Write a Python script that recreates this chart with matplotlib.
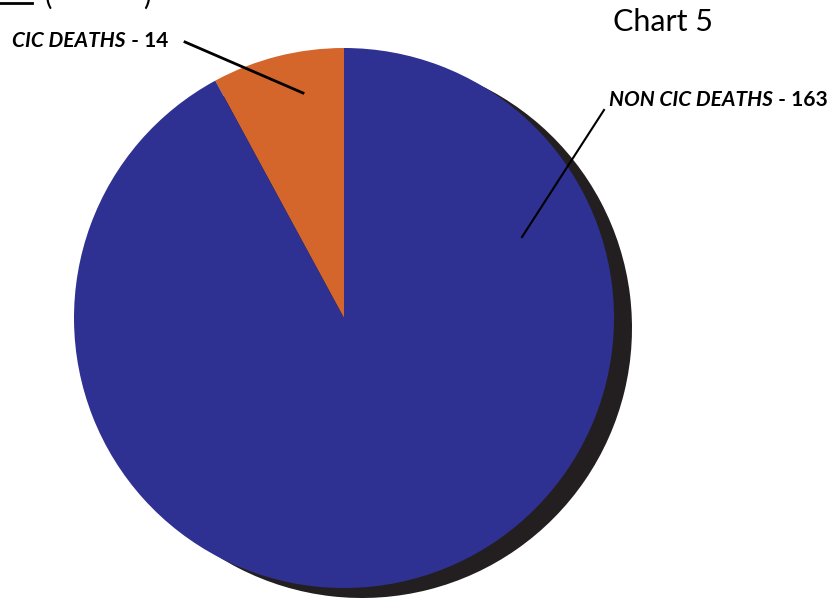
import matplotlib
matplotlib.use("Agg")
import matplotlib.pyplot as plt

categories = ["CIC DEATHS", "NON CIC DEATHS"]
values = [14, 163]
colors = ["#D4652B", "#2E3192"]

W, H = 840, 600
fig = plt.figure(figsize=(8.4, 6.0), dpi=100)
ax = fig.add_axes([0, 0, 1, 1])

cx, cy, r = 344, 600 - 318, 270
# shadow
ax.pie(values, colors=["#231F20", "#231F20"], startangle=90, counterclock=True,
       center=(cx + 18, cy - 10), radius=r, wedgeprops=dict(linewidth=0))
ax.pie(values, colors=colors, startangle=90, counterclock=True,
       center=(cx, cy), radius=r, wedgeprops=dict(linewidth=0))

ax.set_xlim(0, W)
ax.set_ylim(0, H)
ax.set_aspect("auto")
ax.axis("off")

fam = ["Lato", "DejaVu Sans"]

def py(y):
    return H - y

def label(x, y, name, val):
    t = ax.text(x, py(y), name, fontsize=15, fontweight="bold", fontstyle="italic",
                family=fam, ha="left", va="center")
    ax.annotate(f" - {val}", xy=(1, 0.5), xycoords=t, fontsize=15, fontweight="bold",
                family=fam, ha="left", va="center")

label(12, 41, categories[0], values[0])
ax.plot([185, 303], [py(42), py(93)], color="black", lw=2)

label(609, 100, categories[1], values[1])
ax.plot([604, 522], [py(110), py(237)], color="black", lw=1.5)

ax.text(613, py(22), "Chart 5", fontsize=22, family=fam, ha="left", va="center")

# cut-off header fragment
ax.plot([0, 32], [py(3), py(3)], color="black", lw=2)
ax.text(45, py(-4), "(", fontsize=20, family=fam, ha="left", va="center")
ax.text(143, py(-4), ")", fontsize=20, family=fam, ha="left", va="center")

fig.savefig("out.png", dpi=100)
